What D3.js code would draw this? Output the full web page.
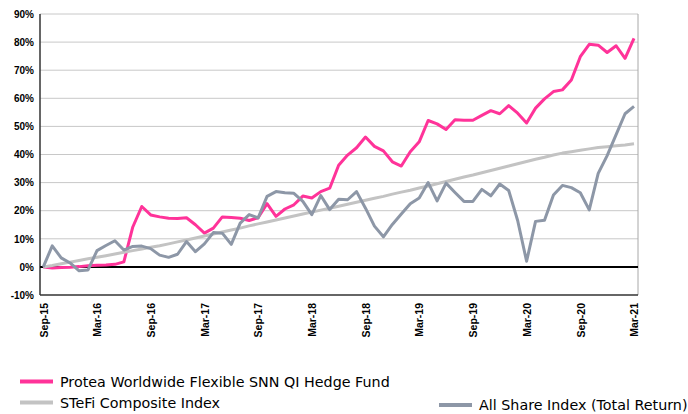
<!DOCTYPE html>
<html>
<head>
<meta charset="utf-8">
<script src="https://cdn.jsdelivr.net/npm/d3@7"></script>
<style>
body{margin:0;background:#fff;}
</style>
</head>
<body>
<div id="chart"></div>
<script>
// monthly cumulative returns, Sep-15 (index 0) to Mar-21 (index 66)
const fundValues=[0,-0.4,-0.2,-0.1,0.1,0.4,0.6,0.7,0.9,1.8,14.2,21.5,18.5,17.8,17.3,17.2,17.5,15.0,12.0,13.8,
17.8,17.6,17.3,16.5,17.5,22.5,18.0,20.6,22.1,25.2,24.5,26.8,28.0,36.2,39.8,42.4,46.2,42.9,41.3,37.4,
35.9,41.0,44.5,52.1,50.9,48.9,52.4,52.2,52.2,53.9,55.6,54.5,57.4,54.7,51.2,56.5,59.8,62.4,63.0,66.5,
74.8,79.2,78.9,76.3,78.7,74.2,81.3];
const stefiValues=[0,0.5,1.1,1.7,2.3,2.9,3.4,4.0,4.6,5.2,5.8,6.4,7.0,7.5,8.2,8.9,9.6,10.3,11.0,11.7,
12.4,13.1,13.8,14.6,15.3,16.0,16.7,17.4,18.1,18.8,19.5,20.2,20.9,21.6,22.3,23.0,23.7,24.4,25.1,25.9,
26.6,27.3,28.1,28.8,29.6,30.4,31.2,32.0,32.7,33.5,34.3,35.1,35.9,36.7,37.5,38.3,39.0,39.8,40.5,41.0,
41.5,42.0,42.5,42.8,43.1,43.4,43.8];
const alshiValues=[0,7.5,3.2,1.4,-1.4,-1.1,5.8,7.6,9.3,6.0,7.3,7.4,6.5,4.2,3.4,4.5,9.0,5.4,8.2,12.2,
12.0,8.0,15.6,18.6,17.4,25.1,26.8,26.4,26.2,23.3,18.6,25.4,20.4,24.1,23.9,26.8,20.9,14.5,10.7,15.1,
18.8,22.5,24.5,30.0,23.5,29.8,26.5,23.3,23.3,27.6,25.3,29.5,27.2,16.5,2.0,16.2,16.6,25.6,29.0,28.2,
26.4,20.3,33.3,39.6,47.1,54.5,57.1];
const xTickLabels=["Sep-15","Mar-16","Sep-16","Mar-17","Sep-17","Mar-18","Sep-18","Mar-19","Sep-19","Mar-20","Sep-20","Mar-21"];
const yTicks=[-10,0,10,20,30,40,50,60,70,80,90];
const seriesNames=["Protea Worldwide Flexible SNN QI Hedge Fund","STeFi Composite Index","All Share Index (Total Return)"];
const seriesColors=["#ff3399","#c3c3c3","#8d97a7"];

const width=688,height=414;
const svg=d3.select("#chart").append("svg")
    .attr("width",width).attr("height",height)
    .style("font-family","'DejaVu Sans',Verdana,sans-serif");

const x=d3.scaleLinear().domain([0,66]).range([43.3,634]);
const y=d3.scaleLinear().domain([-10,90]).range([295,14]);
const left=40,right=638;

//gridlines
svg.append("g").selectAll("line")
    .data(yTicks.filter(d=>d>0))
    .enter().append("line")
    .attr("x1",left).attr("x2",right)
    .attr("y1",d=>y(d)).attr("y2",d=>y(d))
    .attr("stroke","#c8c8c8").attr("stroke-width",1);

//frame
svg.append("line").attr("x1",right).attr("x2",right).attr("y1",y(90)).attr("y2",y(-10))
    .attr("stroke","#a8a8a8").attr("stroke-width",1);
svg.append("line").attr("x1",left).attr("x2",right).attr("y1",y(-10)).attr("y2",y(-10))
    .attr("stroke","#333").attr("stroke-width",1.5);
svg.append("line").attr("x1",left).attr("x2",left).attr("y1",y(90)).attr("y2",y(-10))
    .attr("stroke","#333").attr("stroke-width",1.5);

//y axis labels
const yAxis=svg.append("g").attr("transform",`translate(${left},0)`)
    .call(d3.axisLeft(y).tickValues(yTicks).tickFormat(d=>d+"%").tickSize(0).tickPadding(6));
yAxis.select(".domain").remove();
yAxis.selectAll("text").style("font-size","10px").style("font-weight","bold").attr("fill","#000");

//x axis labels, rotated
const xAxis=svg.append("g").attr("transform",`translate(0,${y(-10)})`)
    .call(d3.axisBottom(x).tickValues(d3.range(0,67,6)).tickFormat((d,i)=>xTickLabels[i]).tickSize(0));
xAxis.select(".domain").remove();
xAxis.selectAll("text")
    .style("font-size","10.5px").style("font-weight","bold").attr("fill","#000")
    .attr("transform","rotate(-90)")
    .attr("text-anchor","end")
    .attr("x",-8).attr("y",0).attr("dy","0.36em");

//zero line
svg.append("line").attr("x1",left).attr("x2",right).attr("y1",y(0)).attr("y2",y(0))
    .attr("stroke","#000").attr("stroke-width",2);

//series lines
const line=d3.line().x((d,i)=>x(i)).y(d=>y(d));
[fundValues,stefiValues,alshiValues].forEach((vals,k)=>{
    svg.append("path")
        .datum(vals)
        .attr("d",line)
        .attr("fill","none")
        .attr("stroke",seriesColors[k])
        .attr("stroke-width",3)
        .attr("stroke-linejoin","round");
});

//legend
const legendPos=[[20,381.5],[20,402.5],[439,405]];
const legend=svg.append("g").selectAll("g")
    .data(seriesNames)
    .enter().append("g")
    .attr("transform",(d,i)=>`translate(${legendPos[i][0]},${legendPos[i][1]})`);
legend.append("line")
    .attr("x1",0).attr("x2",33).attr("y1",0).attr("y2",0)
    .attr("stroke",(d,i)=>seriesColors[i]).attr("stroke-width",4);
legend.append("text")
    .attr("x",40).attr("dy","0.38em")
    .style("font-size","14.3px")
    .attr("fill","#000")
    .text(d=>d);
</script>
</body>
</html>
